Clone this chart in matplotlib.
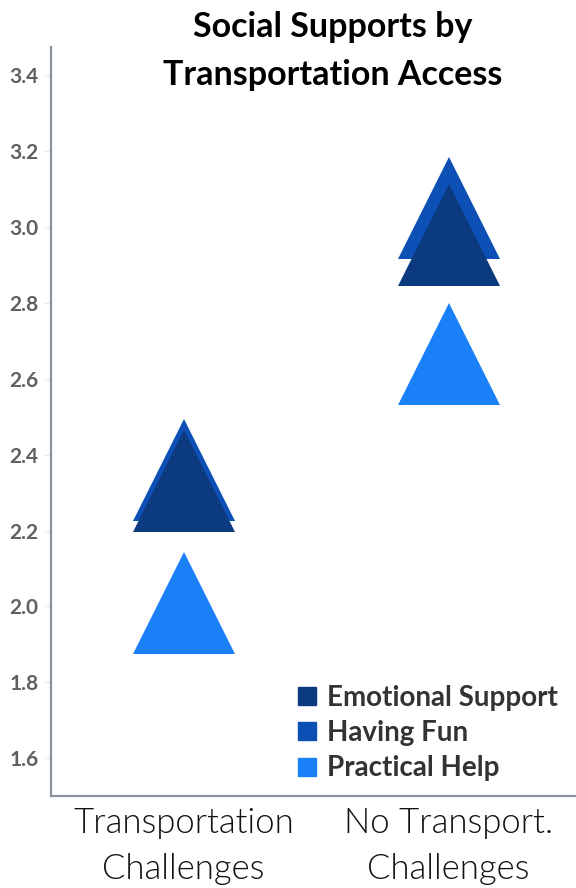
import numpy as np
import matplotlib.pyplot as plt

# Data
groups = ['Transportation\nChallenges', 'No Transport.\nChallenges']
emotional = [2.33, 2.98]
having_fun = [2.36, 3.05]
practical = [2.01, 2.665]
yticks = [1.6, 1.8, 2.0, 2.2, 2.4, 2.6, 2.8, 3.0, 3.2, 3.4]

c_emo = '#0b3a7e'
c_fun = '#0c50b5'
c_prac = '#1a80f8'

plt.rcParams['font.family'] = ['Lato', 'DejaVu Sans']

fig = plt.figure(figsize=(5.76, 8.88), dpi=100)
ax = fig.add_axes([51/576, 1 - 796/888, 530/576, (796 - 47)/888])

x = np.arange(len(groups))
ms = 73
ax.plot(x, having_fun, '^', ms=ms, color=c_fun, mew=0, zorder=2, label='Having Fun')
ax.plot(x, emotional, '^', ms=ms, color=c_emo, mew=0, zorder=3, label='Emotional Support')
ax.plot(x, practical, '^', ms=ms, color=c_prac, mew=0, zorder=2, label='Practical Help')

ax.set_xlim(-0.5, 1.5)
ax.set_ylim(1.5, 3.475)
ax.set_yticks(yticks)
ax.set_yticklabels([f'{v:.1f}' for v in yticks], fontsize=15, fontweight='bold', color='#606060')
ax.set_xticks(x)
ax.set_xticklabels(groups, fontsize=25, fontweight=300, color='#111111', linespacing=1.55)
ax.tick_params(axis='y', length=4, color='#e6e6e6', pad=5)
ax.tick_params(axis='x', length=0, pad=8)

for s in ['top', 'right']:
    ax.spines[s].set_visible(False)
for s in ['left', 'bottom']:
    ax.spines[s].set_color('#8a929c')
    ax.spines[s].set_linewidth(1.6)

# legend with square swatches
h = [plt.Line2D([], [], marker='s', ls='', ms=12.5, color=c) for c in (c_emo, c_fun, c_prac)]
leg = fig.legend(h, ['Emotional Support', 'Having Fun', 'Practical Help'],
                 loc='upper left', bbox_to_anchor=(271/576, 1 - 660/888),
                 frameon=False, handlelength=0.8, handletextpad=0.3, labelspacing=0.33,
                 prop={'family': 'Lato', 'weight': 'bold', 'size': 20})
for t in leg.get_texts():
    t.set_color('#333333')

# title, two lines
fig.text(333/576, 1 - 37/888, 'Social Supports by', ha='center', va='baseline',
         fontsize=24.5, fontweight='bold', color='black')
fig.text(333/576, 1 - 85/888, 'Transportation Access', ha='center', va='baseline',
         fontsize=24.5, fontweight='bold', color='black')

fig.savefig('out.png', dpi=100)
